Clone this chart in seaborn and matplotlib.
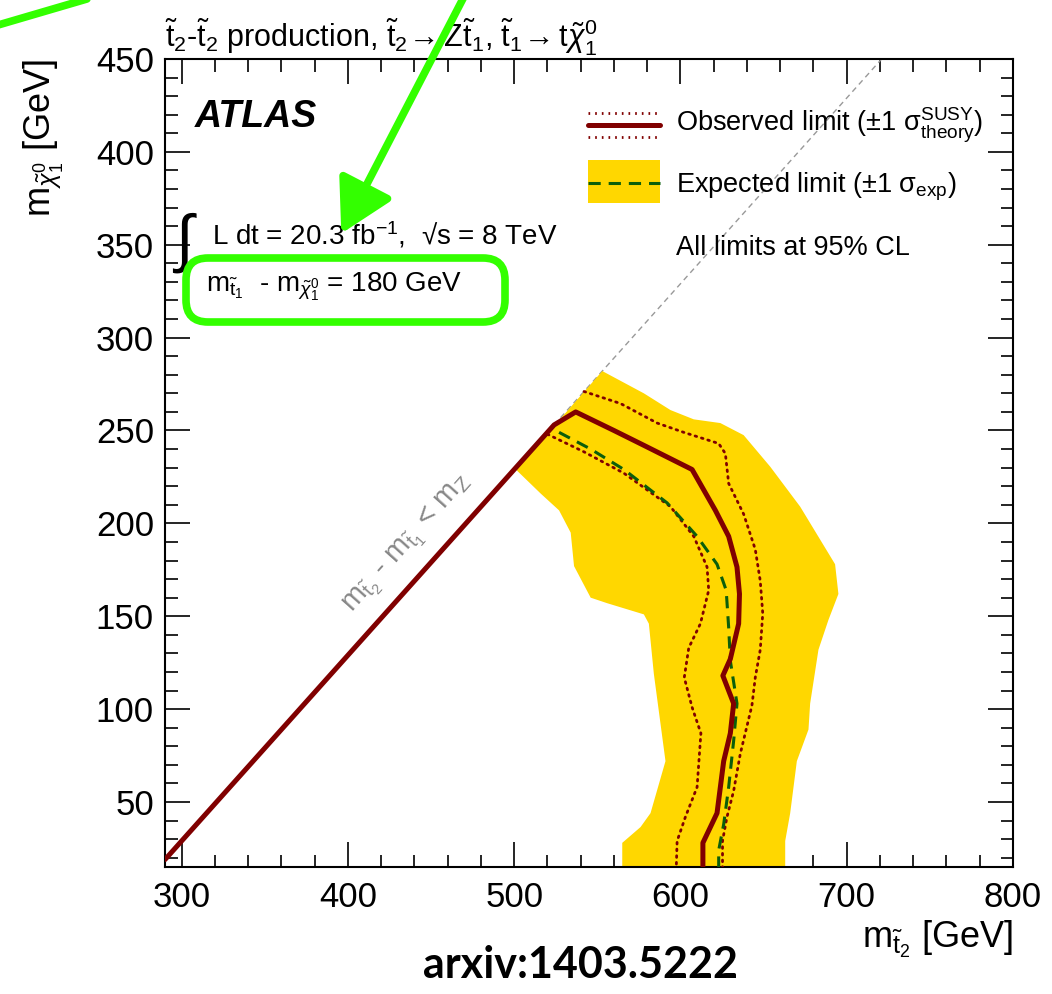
import matplotlib
matplotlib.use("Agg")
import matplotlib.pyplot as plt
from matplotlib.patches import FancyBboxPatch, FancyArrowPatch
from matplotlib.lines import Line2D
from matplotlib.ticker import MultipleLocator
import seaborn as sns

# observed limit (solid), starts on the kinematic boundary
obs_x = [290, 524, 537, 560, 578, 607, 621, 629, 634, 635.5, 635, 630, 625.5, 632, 630, 626, 622, 613.5, 613.5]
obs_y = [19, 253, 260, 250, 242, 229, 207, 193, 176.5, 162, 146, 127, 118, 103, 87, 72, 44, 28, 15]

# observed +-1 sigma theory (dotted)
up_x = [542, 564, 586, 602, 623, 627, 629, 638, 645, 648, 649.5, 648, 645, 643, 636, 632, 628, 625.3, 625.3]
up_y = [271, 264.5, 254, 249, 243, 237.6, 221.5, 205, 186, 169, 151.5, 132, 117, 102, 76, 56, 42, 29, 15]
dn_x = [520, 542, 566, 594, 608, 616, 617, 612, 605, 602.3, 607, 612.3, 610, 603, 598, 597.5]
dn_y = [248, 238.5, 227, 209, 193, 176.5, 164, 146, 133, 117, 101, 87, 58, 42, 29, 15]

# expected limit (dashed)
exp_x = [527, 546, 566, 592, 610, 622, 627.5, 629, 630, 634, 632, 629, 626, 623, 623]
exp_y = [249, 240, 229, 211, 193, 178, 164, 144, 126, 103, 83, 58, 38, 24, 15]

# expected +-1 sigma band (outer edge then inner edge)
band_x = [553, 578, 594, 608, 624, 638, 654, 672, 693, 695, 689, 683, 678, 677, 670, 666, 663, 663,
          565, 565, 576, 582, 591, 584, 582, 581, 578, 556, 546, 536, 534, 527, 516, 501]
band_y = [282, 270, 261, 256, 254, 247.5, 230.5, 209, 178, 162, 148, 132, 103, 89, 72, 44, 29, 15,
          15, 28, 36.5, 44, 72, 119, 137, 146, 151, 157, 160, 177, 195, 207, 216, 229]

# kinematic boundary m_t2 - m_t1 = m_Z
kin_x = [524, 721]
kin_y = [253, 450]

RED = '#800000'
YEL = '#FFD700'
GRN = '#0B5E0B'
LIME = '#33FF00'

sns.set_theme(style='ticks')
plt.rcParams['font.family'] = ['Liberation Sans', 'DejaVu Sans']
plt.rcParams['mathtext.fontset'] = 'custom'
plt.rcParams['mathtext.rm'] = 'Liberation Sans'
plt.rcParams['mathtext.it'] = 'Liberation Sans:italic'
plt.rcParams['mathtext.bf'] = 'Liberation Sans:bold'
plt.rcParams['mathtext.sf'] = 'Liberation Sans'
for k in ['text.color', 'axes.labelcolor', 'xtick.color', 'ytick.color', 'axes.edgecolor']:
    plt.rcParams[k] = 'black'

fig = plt.figure(figsize=(10.52, 9.94), dpi=100)
ax = fig.add_axes([165 / 1052, 1 - 867 / 994, 848 / 1052, 808 / 994])

sns.lineplot(x=kin_x, y=kin_y, sort=False, estimator=None, color='#999999', lw=1,
             linestyle=(0, (4, 3)), ax=ax)
ax.fill(band_x, band_y, color=YEL, lw=0, zorder=2)
for xs, ys in [(up_x, up_y), (dn_x, dn_y)]:
    sns.lineplot(x=xs, y=ys, sort=False, estimator=None, color=RED, lw=2,
                 linestyle=(0, (0.6, 1.8)), dash_capstyle='round', ax=ax, zorder=3)
sns.lineplot(x=exp_x, y=exp_y, sort=False, estimator=None, color=GRN, lw=2.2,
             linestyle=(0, (4, 2.6)), ax=ax, zorder=4)
sns.lineplot(x=obs_x, y=obs_y, sort=False, estimator=None, color=RED, lw=3.6, ax=ax, zorder=5)

ax.set_xlim(290, 800)
ax.set_ylim(15, 450)
ax.xaxis.set_major_locator(MultipleLocator(100))
ax.xaxis.set_minor_locator(MultipleLocator(20))
ax.yaxis.set_major_locator(MultipleLocator(50))
ax.yaxis.set_minor_locator(MultipleLocator(10))
ax.tick_params(which='both', direction='in', top=True, right=True, width=1.2, color='black')
ax.tick_params(which='major', length=18, labelsize=25)
ax.tick_params(axis='x', which='major', pad=10)
ax.tick_params(axis='y', which='major', pad=8)
ax.tick_params(which='minor', length=9)
for s in ax.spines.values():
    s.set_linewidth(1.5)
    s.set_color('black')

ax.set_xlabel(r'$\mathrm{m}_{\tilde{\mathrm{t}}_2}$ [GeV]', fontsize=26, loc='right')
ax.xaxis.set_label_coords(1.0, -0.064)
ax.set_ylabel(r'$\mathrm{m}_{\tilde{\chi}^{0}_{1}}$ [GeV]', fontsize=26, loc='top')
ax.yaxis.set_label_coords(-0.118, 1.0)

# texts
fig.text(165 / 1052, 1 - 48 / 994,
         r'$\tilde{\mathrm{t}}_2$-$\tilde{\mathrm{t}}_2$ production, '
         r'$\tilde{\mathrm{t}}_2\!\rightarrow \mathrm{Z}\tilde{\mathrm{t}}_1$, '
         r'$\tilde{\mathrm{t}}_1\!\rightarrow \mathrm{t}\tilde{\chi}^0_1$',
         fontsize=22, va='baseline', ha='left')
ax.text(0.035, 0.928, 'ATLAS', transform=ax.transAxes, fontsize=27, fontweight='bold',
        fontstyle='italic', va='center', ha='left')
ax.text(0.012, 0.772, '\u222b', transform=ax.transAxes, fontsize=46, va='center', ha='left')
ax.text(0.056, 0.771, 'L dt = 20.3 fb$^{-1}$,  \u221as = 8 TeV',
        transform=ax.transAxes, fontsize=20, va='baseline', ha='left')
ax.text(0.048, 0.713, r'$\mathrm{m}_{\tilde{\mathrm{t}}_1}$  - $\mathrm{m}_{\tilde{\chi}^0_1}$ = 180 GeV',
        transform=ax.transAxes, fontsize=20, va='baseline', ha='left')
ax.text(436, 189, r'$\mathrm{m}_{\tilde{\mathrm{t}}_2}$ - $\mathrm{m}_{\tilde{\mathrm{t}}_1}$ < $\mathrm{m}_\mathrm{Z}$',
        fontsize=21, color='#888888', rotation=45, transform_rotates_text=True,
        rotation_mode='anchor', ha='center', va='center')

# legend glyphs
lx = [0.499, 0.584]
ax.add_line(Line2D(lx, [0.918, 0.918], transform=ax.transAxes, color=RED, lw=3.6, clip_on=False))
for yy in (0.933, 0.903):
    ax.add_line(Line2D(lx, [yy, yy], transform=ax.transAxes, color=RED, lw=2,
                       linestyle=(0, (0.6, 1.8)), clip_on=False))
ax.add_patch(plt.Rectangle((0.499, 0.822), 0.085, 0.053, transform=ax.transAxes,
                           color=YEL, lw=0))
ax.add_line(Line2D(lx, [0.847, 0.847], transform=ax.transAxes, color=GRN, lw=2.2,
                   linestyle=(0, (4, 2.6))))
ax.text(0.603, 0.918, r'Observed limit ($\pm$1 $\mathrm{\sigma}^{\mathrm{SUSY}}_{\mathrm{theory}}$)',
        transform=ax.transAxes, fontsize=19.5, va='center', ha='left')
ax.text(0.603, 0.842, r'Expected limit ($\pm$1 $\mathrm{\sigma}_{\mathrm{exp}}$)',
        transform=ax.transAxes, fontsize=19.5, va='center', ha='left')
ax.text(0.603, 0.766, 'All limits at 95% CL', transform=ax.transAxes, fontsize=19.5,
        va='center', ha='left')

fig.text(580 / 1052, 1 - 965 / 994, 'arxiv:1403.5222', fontsize=31, fontweight='bold',
         ha='center', va='center', family='Lato')

# green annotation
tr = fig.dpi_scale_trans
fig.patches.append(FancyBboxPatch((1.86, 6.72), 3.19, 0.64, boxstyle='round,pad=0,rounding_size=0.22',
                                  transform=tr, fill=False, ec=LIME, lw=5.5, zorder=10))
fig.patches.append(FancyArrowPatch((4.68, 10.05), (3.40, 7.58), transform=tr, color=LIME, lw=5.5,
                                   arrowstyle='-|>,head_length=0.8,head_width=0.45',
                                   mutation_scale=40, zorder=10))
fig.lines.append(Line2D([-0.1, 1.04], [9.94 - 0.25 - 0.024, 10.0], transform=tr, color=LIME,
                        lw=5.5, zorder=10))

fig.savefig('out.png', dpi=100)
